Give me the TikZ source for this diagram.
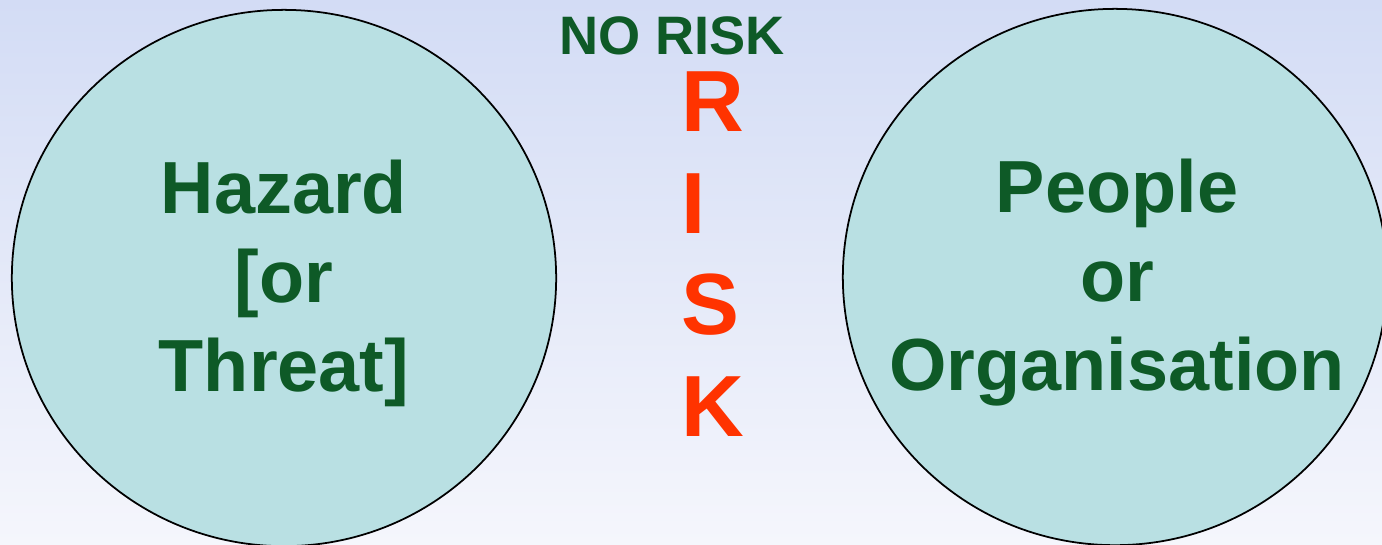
\documentclass[tikz,border=0pt]{standalone}
\usepackage{fontspec}
\setmainfont{Liberation Sans}
\usepackage{tikz}
\usetikzlibrary{shapes, calc, positioning}
\definecolor{skytop}{HTML}{D3DCF5}
\definecolor{skybottom}{HTML}{F5F6FC}
\definecolor{bubblefill}{HTML}{B9E0E3}
\definecolor{darkgreen}{HTML}{0E5A27}
\definecolor{riskred}{HTML}{FF3300}
\tikzset{
	every node/.style={
		font=\bfseries
	},
	bubble/.style={
		shape=ellipse,
		fill=bubblefill,
		draw=black,
		line width=0.5pt,
		minimum width=5.44cm,
		minimum height=5.36cm,
		inner sep=0pt
	},
	bubbletext/.style={
		text=darkgreen,
		inner sep=0pt,
		align=center,
		font=\bfseries\fontsize{21}{25.3}\selectfont
	},
	norisk/.style={
		text=darkgreen,
		inner sep=0pt,
		font=\bfseries\fontsize{15.4}{18}\selectfont
	},
	riskword/.style={
		text=riskred,
		inner sep=0pt,
		align=left,
		font=\bfseries\fontsize{24.7}{28.9}\selectfont
	}
}

\begin{document}
\begin{tikzpicture}[x=0.01cm,y=-0.01cm]
	\useasboundingbox (0,0) rectangle (1382,544);
	\clip (0,0) rectangle (1382,544);
	\shade[top color=skytop,bottom color=skybottom] (0,0) rectangle (1382,544);
	
	\node[bubble] (hazard) at (284,278) {};
	\node[bubble] (people) at (1115,277) {};
	\node[bubbletext] (hazardtext) at ($(hazard.center)+(0,5)$) {Hazard\\\relax[or\\Threat]};
	\node[bubbletext] (peopletext) at ($(people.center)+(2,6)$) {People\\or\\Organisation};
	
	\node[norisk, anchor=base] (none) at (672,54) {NO RISK};
	\node[riskword, anchor=north west] (risk) at (681,71) {R\\I\\S\\K};
\end{tikzpicture}
\end{document}
